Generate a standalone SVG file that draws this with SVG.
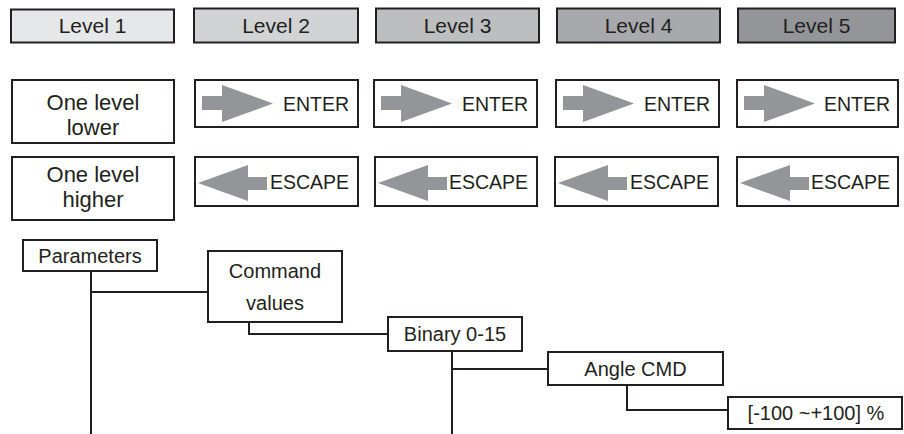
<svg xmlns="http://www.w3.org/2000/svg" width="904" height="434" viewBox="0 0 904 434">
<style>
.box{fill:#fff;stroke:#231f20;stroke-width:2}
.t{font-family:"Liberation Sans",Arial,sans-serif;fill:#231f20}
.lv{font-size:21px;text-anchor:middle}
.btn{font-size:19.5px;text-anchor:end}
.lbl{font-size:22px;text-anchor:middle}
.nd{font-size:20px;text-anchor:middle}
.arr{fill:#939598}
.con{fill:none;stroke:#231f20;stroke-width:2}
</style>
<defs>
<path id="enterArrow" class="arr" d="M7,16 H27 V5 L78,23.5 L27,42 V30 H7 Z"/>
<path id="escArrow" class="arr" d="M3,26 L53,8 V20 H72 V33 H53 V44 Z"/>
</defs>
<rect width="904" height="434" fill="#fff"/>

<g id="level1"><rect class="box" x="11" y="9.5" width="163" height="33" style="fill:#e6e7e8"/><text class="t lv" x="92.5" y="33">Level 1</text></g>
<g id="level2"><rect class="box" x="194" y="8.5" width="164" height="34" style="fill:#d1d3d4"/><text class="t lv" x="276" y="33">Level 2</text></g>
<g id="level3"><rect class="box" x="376" y="8.5" width="163" height="34" style="fill:#bcbec0"/><text class="t lv" x="457.5" y="33">Level 3</text></g>
<g id="level4"><rect class="box" x="557" y="8.5" width="163" height="34" style="fill:#a7a9ac"/><text class="t lv" x="638.5" y="33">Level 4</text></g>
<g id="level5"><rect class="box" x="738" y="8.5" width="157" height="34" style="fill:#939598"/><text class="t lv" x="816.5" y="33">Level 5</text></g>

<g id="lower"><rect class="box" x="12" y="80" width="162" height="63"/><text class="t lbl" x="93" y="110">One level</text><text class="t lbl" x="93" y="135">lower</text></g>
<g id="higher"><rect class="box" x="12" y="157" width="162" height="63"/><text class="t lbl" x="93" y="182">One level</text><text class="t lbl" x="93" y="207">higher</text></g>

<g id="enter2"><rect class="box" x="195" y="80" width="163" height="47"/><use href="#enterArrow" x="195" y="80"/><text class="t btn" x="349" y="110.5">ENTER</text></g>
<g id="enter3"><rect class="box" x="374" y="80" width="163" height="47"/><use href="#enterArrow" x="374" y="80"/><text class="t btn" x="528" y="110.5">ENTER</text></g>
<g id="enter4"><rect class="box" x="556" y="80" width="163" height="47"/><use href="#enterArrow" x="556" y="80"/><text class="t btn" x="710" y="110.5">ENTER</text></g>
<g id="enter5"><rect class="box" x="737" y="80" width="161" height="47"/><use href="#enterArrow" x="737" y="80"/><text class="t btn" x="890" y="110.5">ENTER</text></g>

<g id="escape2"><rect class="box" x="195" y="157" width="163" height="49"/><use href="#escArrow" x="195" y="157"/><text class="t btn" x="349" y="189">ESCAPE</text></g>
<g id="escape3"><rect class="box" x="375" y="157" width="162" height="49"/><use href="#escArrow" x="375" y="157"/><text class="t btn" x="528" y="189">ESCAPE</text></g>
<g id="escape4"><rect class="box" x="555" y="157" width="163" height="49"/><use href="#escArrow" x="555" y="157"/><text class="t btn" x="709" y="189">ESCAPE</text></g>
<g id="escape5"><rect class="box" x="737" y="157" width="161" height="49"/><use href="#escArrow" x="737" y="157"/><text class="t btn" x="890" y="189">ESCAPE</text></g>

<g id="connectors">
<path class="con" d="M91,271 V434 M91,292 H208"/>
<path class="con" d="M249,322 V334 H388"/>
<path class="con" d="M452,351 V434 M452,369 H548"/>
<path class="con" d="M627,385 V410 H728"/>
</g>

<g id="parameters"><rect class="box" x="23" y="240" width="134" height="31"/><text class="t nd" x="90" y="263">Parameters</text></g>
<g id="command"><rect class="box" x="208" y="251" width="134" height="71"/><text class="t nd" x="275" y="278">Command</text><text class="t nd" x="275" y="310">values</text></g>
<g id="binary"><rect class="box" x="388" y="317" width="134" height="34"/><text class="t nd" x="455" y="341">Binary 0-15</text></g>
<g id="angle"><rect class="box" x="548" y="352" width="175" height="33"/><text class="t nd" x="635.5" y="376">Angle CMD</text></g>
<g id="range"><rect class="box" x="728" y="397" width="174" height="32"/><text class="t nd" x="816" y="420">[-100 ~+100] %</text></g>
</svg>
